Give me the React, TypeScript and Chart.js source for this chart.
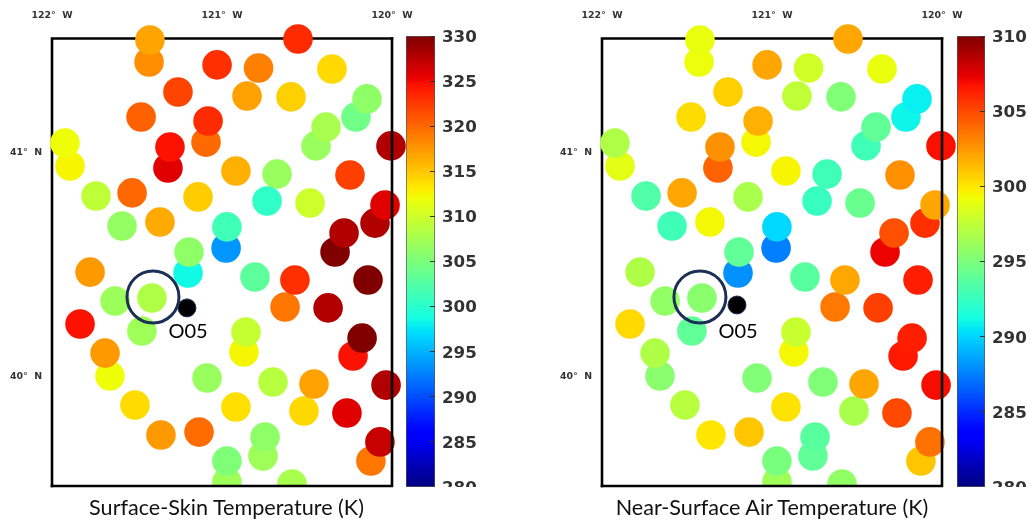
import React, { useEffect, useRef } from "react";
import { Chart, registerables } from "chart.js";

Chart.register(...registerables);

const stationLons = [-121.424,-121.429,-121.029,-120.785,-121.259,-120.853,-121.476,-121.082,-121.306,-121.094,-121.924,-121.894,-121.318,-120.918,-121.741,-121.529,-121.141,-120.735,-121.588,-121.365,-120.971,-120.976,-121.194,-121.776,-120.553,-120.353,-120.594,-120.147,-120.212,-120.388,-120.447,-120.006,-120.676,-120.247,-120.482,-120.041,-120.100,-120.282,-120.335,-120.571,-120.141,-120.629,-120.376,-120.176,-120.229,-120.700,-120.459,-120.035,-120.518,-120.265,-120.071,-120.124,-120.588,-120.747,-120.759,-121.200,-121.629,-121.412,-121.835,-121.471,-121.688,-121.659,-120.859,-120.871,-121.088,-121.512,-120.918,-121.359,-121.135,-120.971,-120.971,-120.806];
const stationLats = [41.493,41.395,41.382,41.368,41.261,41.243,41.149,41.131,41.015,41.037,41.033,40.930,40.921,40.908,40.796,40.810,40.792,40.774,40.662,40.680,40.658,40.564,40.546,40.456,41.498,41.364,41.239,41.230,41.149,41.104,41.020,41.020,40.894,40.890,40.765,40.756,40.675,40.631,40.546,40.421,40.421,40.300,40.296,40.161,40.081,39.965,39.956,39.951,39.835,39.826,39.697,39.612,39.509,39.719,39.634,40.452,40.327,40.340,40.224,40.193,40.094,39.992,40.188,40.099,39.983,39.862,39.853,39.728,39.741,39.612,39.518,40.434];
const skinTemps = [316.8,318,323,318.8,321.9,317,320.4,323.2,324.6,319.9,312,312.5,325.8,316.2,309.1,320,314.7,300.4,306.5,316.5,301.4,293.6,306.2,317.4,323.2,314,314.5,306.2,304.3,307.8,306.8,327.9,306.8,322.1,309.9,325.8,327.9,327.9,330,323,330,319.2,327.9,330,324.6,308.7,317,327.9,314,325.8,326.9,319.2,307.8,306.2,307.1,298.5,307,308.2,324.6,307.1,317.4,312,309.5,312.4,306.8,313.9,313.7,317.4,319.8,305.2,307.1,303.1];
const airTemps = [299,299.1,302,298.1,300.7,297.5,300.3,301.7,302.7,299.4,296.9,298.8,304.2,299.5,293.4,302,296.7,292.5,292.8,299.4,290.1,287.5,294,296.9,302,299,295.2,290.8,291,294,292.8,306.8,292.8,302.7,294.3,302,305.8,304.8,307.2,302,306.3,303.5,305.3,306.3,306.5,295.2,302,306.9,296.7,305,303.7,301,295.8,293.7,294,288,295.8,295.5,300.4,294,296.9,295.5,297.8,299.4,295.2,297.2,300.1,300,301,294.9,296.3,293.7];

const lonTicks = [-122, -121, -120];
const latTicks = [40, 41];
const skinTicks = [280, 285, 290, 295, 300, 305, 310, 315, 320, 325, 330];
const airTicks = [280, 285, 290, 295, 300, 305, 310];
const titles = ["Surface-Skin Temperature (K)", "Near-Surface Air Temperature (K)"];
const stationName = "O05";
const stationSkin = { x: -121.206, y: 40.296 };
const stationAir = { x: -121.206, y: 40.309 };
const ringSkin = { x: -121.406, y: 40.345 };
const ringAir = { x: -121.424, y: 40.345 };

const clamp01 = (v: number) => Math.max(0, Math.min(1, v));
function jet(f: number) {
  const ramp = (pts: number[][]) => {
    for (let i = 1; i < pts.length; i++) {
      if (f <= pts[i][0]) {
        const [a, av] = pts[i - 1];
        const [b, bv] = pts[i];
        return av + ((f - a) / (b - a)) * (bv - av);
      }
    }
    return pts[pts.length - 1][1];
  };
  const r = ramp([[0, 0], [0.35, 0], [0.66, 1], [0.89, 1], [1, 0.5]]);
  const g = ramp([[0, 0], [0.125, 0], [0.375, 1], [0.64, 1], [0.91, 0], [1, 0]]);
  const b = ramp([[0, 0.5], [0.11, 1], [0.34, 1], [0.65, 0], [1, 0]]);
  return `rgb(${Math.round(r * 255)},${Math.round(g * 255)},${Math.round(b * 255)})`;
}

const TICK_COLOR = "#333333";
const MAP_FONT = { family: "'DejaVu Sans'", size: 9.4, weight: "bold" as const };

function MapPanel({ left, temps, min, max, station, ring, labelDy }: any) {
  const ref = useRef<HTMLCanvasElement>(null);
  useEffect(() => {
    const order = stationLons.map((_, i) => i).reverse();
    const points = order.map((i) => ({ x: stationLons[i], y: stationLats[i], v: temps[i] }));
    const frame = (chart: any, sides: string[]) => {
      const { ctx, chartArea: a } = chart;
      ctx.save();
      ctx.strokeStyle = "#000";
      ctx.lineWidth = 2.6;
      ctx.lineCap = "square";
      ctx.beginPath();
      if (sides.includes("l")) { ctx.moveTo(a.left, a.top); ctx.lineTo(a.left, a.bottom); }
      if (sides.includes("t")) { ctx.moveTo(a.left, a.top); ctx.lineTo(a.right, a.top); }
      if (sides.includes("r")) { ctx.moveTo(a.right, a.top); ctx.lineTo(a.right, a.bottom); }
      if (sides.includes("b")) { ctx.moveTo(a.left, a.bottom); ctx.lineTo(a.right, a.bottom); }
      ctx.stroke();
      ctx.restore();
    };
    const chart = new Chart(ref.current as HTMLCanvasElement, {
      type: "scatter",
      data: {
        datasets: [
          { label: "ring", data: [ring], pointRadius: 26, pointBackgroundColor: "rgba(0,0,0,0)", pointBorderColor: "#1b2f57", pointBorderWidth: 3, clip: false } as any,
          { label: stationName, data: [station], pointRadius: 9, pointBackgroundColor: "#000", pointBorderColor: "#1b2f57", pointBorderWidth: 1, clip: false } as any,
          {
            label: "stations",
            data: points,
            pointRadius: 14.8,
            pointBorderWidth: 0,
            pointBackgroundColor: (c: any) => jet(clamp01(((c.raw?.v ?? min) - min) / (max - min))),
            clip: { left: false, top: false, right: false, bottom: 0 },
          } as any,
        ],
      },
      options: {
        responsive: false,
        animation: false,
        layout: { padding: { left: 0, top: 0, right: 88, bottom: 37 } },
        plugins: { legend: { display: false }, tooltip: { enabled: false } },
        scales: {
          x: {
            type: "linear",
            position: "top",
            min: lonTicks[0],
            max: lonTicks[lonTicks.length - 1],
            grid: { display: false },
            border: { display: false },
            afterFit: (s: any) => { s.height = 38.5; },
            afterBuildTicks: (s: any) => { s.ticks = lonTicks.map((value) => ({ value })); },
            ticks: {
              padding: 9.5,
              maxRotation: 0,
              autoSkip: false,
              color: TICK_COLOR,
              font: MAP_FONT,
              callback: (v: any) => `${Math.abs(Number(v))}°  W`,
            },
          },
          y: {
            type: "linear",
            min: 39.5,
            max: 41.5,
            grid: { display: false },
            border: { display: false },
            afterFit: (s: any) => { s.width = 52; },
            afterBuildTicks: (s: any) => { s.ticks = latTicks.map((value) => ({ value })); },
            ticks: {
              padding: 2,
              labelOffset: 2,
              autoSkip: false,
              color: TICK_COLOR,
              font: MAP_FONT,
              callback: (v: any) => `${v}°  N`,
            },
          },
        },
      } as any,
      plugins: [
        {
          id: "frameAndLabel",
          beforeDatasetsDraw: (c: any) => frame(c, ["l", "t"]),
          afterDatasetsDraw: (c: any) => {
            frame(c, ["r", "b"]);
            const el = c.getDatasetMeta(1).data[0];
            const { ctx } = c;
            ctx.save();
            ctx.font = "20px Lato";
            ctx.fillStyle = "#000";
            ctx.textAlign = "center";
            ctx.textBaseline = "middle";
            ctx.fillText(stationName, el.x + 1, el.y + labelDy);
            ctx.restore();
          },
        },
      ],
    });
    return () => chart.destroy();
  }, []);
  return <canvas ref={ref} width={480} height={523} style={{ position: "absolute", left, top: 0, width: 480, height: 523 }} />;
}

function ColorBar({ left, barWidth, min, max, ticks }: any) {
  const ref = useRef<HTMLCanvasElement>(null);
  useEffect(() => {
    const chart = new Chart(ref.current as HTMLCanvasElement, {
      type: "bar",
      data: {
        labels: [""],
        datasets: [
          {
            data: [[min, max]],
            barPercentage: 1,
            categoryPercentage: 1,
            borderWidth: 1,
            borderColor: "#555555",
            borderSkipped: false,
            backgroundColor: (c: any) => {
              const a = c.chart.chartArea;
              if (!a) return "#000";
              const g = c.chart.ctx.createLinearGradient(0, a.bottom, 0, a.top);
              for (let i = 0; i <= 100; i++) g.addColorStop(i / 100, jet(i / 100));
              return g;
            },
          } as any,
        ],
      },
      options: {
        responsive: false,
        animation: false,
        layout: { padding: { left: 1, top: 36, right: 0, bottom: 36 } },
        plugins: { legend: { display: false }, tooltip: { enabled: false } },
        scales: {
          x: { display: false },
          y: {
            position: "right",
            min,
            max,
            afterFit: (s: any) => { s.width = 46; },
            afterBuildTicks: (s: any) => { s.ticks = ticks.map((value: number) => ({ value })); },
            border: { display: false },
            grid: { drawOnChartArea: false, z: 1, tickLength: -5, color: "#333333", lineWidth: 1 },
            ticks: { padding: 12, labelOffset: 1.5, color: TICK_COLOR, autoSkip: false, font: { family: "'DejaVu Sans'", size: 16.7, weight: "bold" } },
          },
        },
      } as any,
    });
    return () => chart.destroy();
  }, []);
  const w = barWidth + 47;
  return (
    <div style={{ position: "absolute", left, top: 0, width: w, height: 487, overflow: "hidden" }}>
      <canvas ref={ref} width={w} height={523} style={{ display: "block", width: w, height: 523 }} />
    </div>
  );
}

function Title({ text, cx }: { text: string; cx: number }) {
  return (
    <div style={{ position: "absolute", left: cx - 200, width: 400, top: 494, height: 26, lineHeight: "26px", textAlign: "center", fontFamily: "Lato", fontSize: 21.6, color: "#111" }}>
      {text}
    </div>
  );
}

export default function App() {
  return (
    <div style={{ position: "absolute", left: 0, top: 0, width: 1030, height: 523, background: "#fff", overflow: "hidden" }}>
      <MapPanel left={0} temps={skinTemps} min={280} max={330} station={stationSkin} ring={ringSkin} labelDy={24} />
      <MapPanel left={550} temps={airTemps} min={280} max={310} station={stationAir} ring={ringAir} labelDy={27} />
      <ColorBar left={405} barWidth={29} min={280} max={330} ticks={skinTicks} />
      <ColorBar left={955.5} barWidth={28} min={280} max={310} ticks={airTicks} />
      <Title text={titles[0]} cx={226.5} />
      <Title text={titles[1]} cx={772} />
    </div>
  );
}
